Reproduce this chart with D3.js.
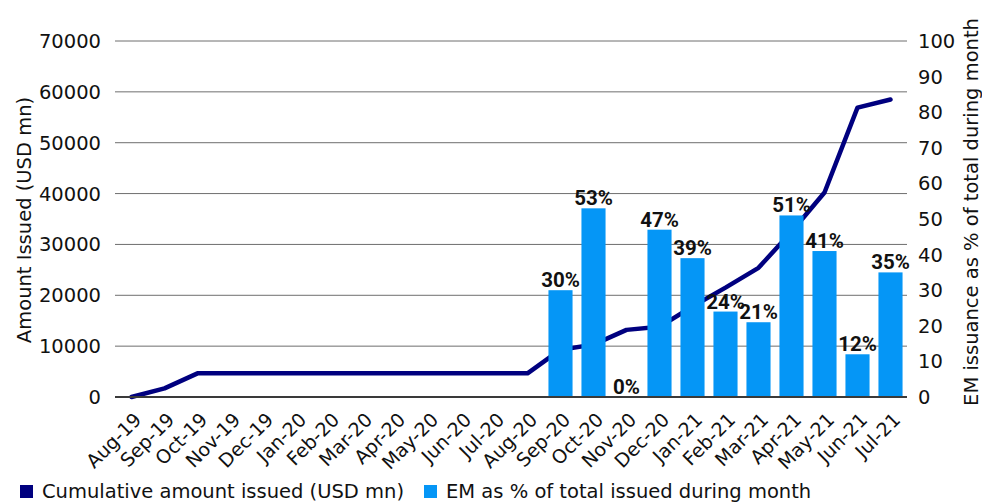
<!DOCTYPE html>
<html>
<head>
<meta charset="utf-8">
<script src="https://cdn.jsdelivr.net/npm/d3@7"></script>
<style>
  body { margin: 0; background: #fff; }
  text { font-family: "DejaVu Sans", sans-serif; fill: #111; }
</style>
</head>
<body>
<div id="chart"></div>
<script>
// months on the x axis
var months = ['Aug-19','Sep-19','Oct-19','Nov-19','Dec-19','Jan-20','Feb-20','Mar-20','Apr-20','May-20','Jun-20','Jul-20',
  'Aug-20','Sep-20','Oct-20','Nov-20','Dec-20','Jan-21','Feb-21','Mar-21','Apr-21','May-21','Jun-21','Jul-21'];

// cumulative amount issued (USD mn)
var cumulative = [0, 1700, 4650, 4650, 4650, 4650, 4650, 4650, 4650, 4650, 4650, 4650,
  4650, 9300, 10300, 13200, 13800, 17800, 21500, 25400, 32500, 40200, 56900, 58500];

// EM as % of total issued during month (null = no bar)
var emShare = [null, null, null, null, null, null, null, null, null, null, null, null,
  null, 30, 53, 0, 47, 39, 24, 21, 51, 41, 12, 35];

var leftTicks = [0, 10000, 20000, 30000, 40000, 50000, 60000, 70000];
var rightTicks = [0, 10, 20, 30, 40, 50, 60, 70, 80, 90, 100];

var W = 982, H = 504;
var margin = { top: 41, right: 75, bottom: 107, left: 115 };
var width = W - margin.left - margin.right;
var height = H - margin.top - margin.bottom;
var fs = '19.5px';

var svg = d3.select('#chart').append('svg')
  .attr('width', W)
  .attr('height', H);

var g = svg.append('g')
  .attr('transform', 'translate(' + margin.left + ',' + margin.top + ')');

var x = d3.scaleBand().domain(months).range([0, width]).paddingInner(0.27).paddingOuter(0.135);
var xc = function(d) { return x(d) + x.bandwidth() / 2; };
var yL = d3.scaleLinear().domain([0, 70000]).range([height, 0]);
var yR = d3.scaleLinear().domain([0, 100]).range([height, 0]);

// gridlines
g.append('g')
  .selectAll('line')
  .data(leftTicks.slice(1))
  .enter().append('line')
  .attr('x1', 0).attr('x2', width)
  .attr('y1', function(d) { return yL(d); })
  .attr('y2', function(d) { return yL(d); })
  .attr('stroke', '#6e6e6e')
  .attr('stroke-width', 1);

// left axis labels
g.append('g')
  .selectAll('text')
  .data(leftTicks)
  .enter().append('text')
  .attr('x', -14)
  .attr('y', function(d) { return yL(d); })
  .attr('dy', '0.36em')
  .attr('text-anchor', 'end')
  .style('font-size', fs)
  .text(function(d) { return d; });

// right axis labels
g.append('g')
  .selectAll('text')
  .data(rightTicks)
  .enter().append('text')
  .attr('x', width + 11)
  .attr('y', function(d) { return yR(d); })
  .attr('dy', '0.36em')
  .attr('text-anchor', 'start')
  .style('font-size', fs)
  .text(function(d) { return d; });

// line sits behind the bars
var line = d3.line()
  .x(function(d, i) { return xc(months[i]); })
  .y(function(d) { return yL(d); });

g.append('path')
  .datum(cumulative)
  .attr('d', line)
  .attr('fill', 'none')
  .attr('stroke', '#00007f')
  .attr('stroke-width', 4.5)
  .attr('stroke-linecap', 'round')
  .attr('stroke-linejoin', 'round');

// bars
var barData = months.map(function(m, i) { return { m: m, v: emShare[i] }; })
  .filter(function(d) { return d.v !== null; });

g.selectAll('rect.bar')
  .data(barData)
  .enter().append('rect')
  .attr('class', 'bar')
  .attr('x', function(d) { return x(d.m); })
  .attr('width', x.bandwidth())
  .attr('y', function(d) { return yR(d.v); })
  .attr('height', function(d) { return height - yR(d.v); })
  .attr('fill', '#0596f6');

// bar labels
g.selectAll('text.blabel')
  .data(barData)
  .enter().append('text')
  .attr('class', 'blabel')
  .attr('x', function(d) { return xc(d.m); })
  .attr('y', function(d) { return yR(d.v) - 3; })
  .attr('text-anchor', 'middle')
  .style('font-family', 'Roboto, sans-serif')
  .style('font-size', '20.5px')
  .style('font-weight', 'bold')
  .text(function(d) { return d.v + '%'; });

// baseline
g.append('line')
  .attr('x1', 0).attr('x2', width)
  .attr('y1', height).attr('y2', height)
  .attr('stroke', '#3a3a3a')
  .attr('stroke-width', 2);

// x labels rotated
g.append('g')
  .selectAll('text')
  .data(months)
  .enter().append('text')
  .attr('transform', function(d) { return 'translate(' + (xc(d) + 11) + ',' + (height + 24) + ') rotate(-45)'; })
  .attr('text-anchor', 'end')
  .style('font-size', '19px')
  .text(function(d) { return d; });

// axis titles
svg.append('text')
  .attr('transform', 'translate(31,220) rotate(-90)')
  .attr('text-anchor', 'middle')
  .style('font-size', fs)
  .text('Amount Issued (USD mn)');

svg.append('text')
  .attr('transform', 'translate(978,212) rotate(-90)')
  .attr('text-anchor', 'middle')
  .style('font-size', fs)
  .text('EM issuance as % of total during month');

// legend
var legend = [
  { label: 'Cumulative amount issued (USD mn)', color: '#00007f', x: 20 },
  { label: 'EM as % of total issued during month', color: '#0596f6', x: 424 }
];
var lg = svg.append('g').selectAll('g')
  .data(legend)
  .enter().append('g')
  .attr('transform', function(d) { return 'translate(' + d.x + ',485)'; });
lg.append('rect')
  .attr('width', 13).attr('height', 13)
  .attr('fill', function(d) { return d.color; });
lg.append('text')
  .attr('x', 22)
  .attr('y', 13)
  .style('font-size', fs)
  .text(function(d) { return d.label; });
</script>
</body>
</html>
